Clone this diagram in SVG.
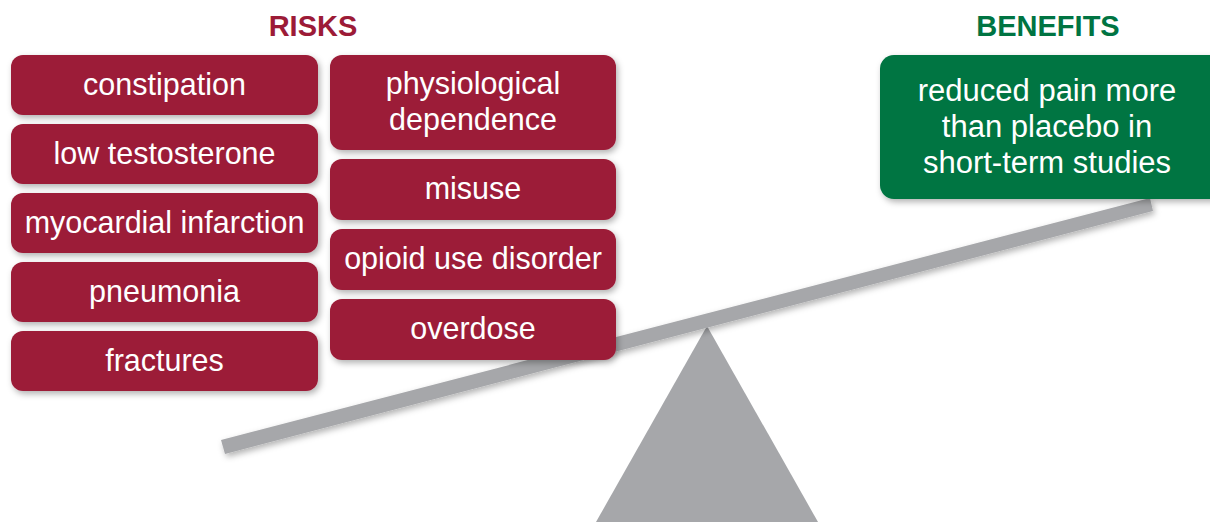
<svg xmlns="http://www.w3.org/2000/svg" width="1210" height="523" viewBox="0 0 1210 523">
<defs>
<filter id="sh" x="-10%" y="-20%" width="130%" height="150%">
<feDropShadow dx="2" dy="3" stdDeviation="3" flood-color="#000" flood-opacity="0.3"/>
</filter>
<style>
.risk{fill:#9c1b37;filter:url(#sh)}
.ben{fill:#007442;filter:url(#sh)}
.t{font-family:"Liberation Sans",Arial,sans-serif;font-size:30.5px;fill:#fff;text-anchor:middle}
.h{font-family:"Liberation Sans",Arial,sans-serif;font-size:29px;font-weight:bold;text-anchor:middle}
.gray{fill:#a6a7aa}
</style>
</defs>
<rect width="1210" height="523" fill="#fff"/>
<g id="seesaw">
<polygon class="gray" points="707,326 596,522 818,522"/>
<polygon class="gray" points="221,440 1150,198 1153,211 225,454" filter="url(#sh)"/>
</g>
<text class="h" x="313" y="36" fill="#9c1b37">RISKS</text>
<text class="h" x="1048" y="36" fill="#007442">BENEFITS</text>
<g id="constipation"><rect class="risk" x="11" y="55" width="307" height="60" rx="12"/><text class="t" x="164.5" y="95">constipation</text></g>
<g id="low-testosterone"><rect class="risk" x="11" y="124" width="307" height="60" rx="12"/><text class="t" x="164.5" y="164">low testosterone</text></g>
<g id="myocardial-infarction"><rect class="risk" x="11" y="193" width="307" height="60" rx="12"/><text class="t" x="164.5" y="233">myocardial infarction</text></g>
<g id="pneumonia"><rect class="risk" x="11" y="262" width="307" height="60" rx="12"/><text class="t" x="164.5" y="302">pneumonia</text></g>
<g id="fractures"><rect class="risk" x="11" y="331" width="307" height="60" rx="12"/><text class="t" x="164.5" y="371">fractures</text></g>
<g id="physiological-dependence"><rect class="risk" x="330" y="55" width="286" height="95" rx="12"/><text class="t" x="473" y="94">physiological</text><text class="t" x="473" y="130">dependence</text></g>
<g id="misuse"><rect class="risk" x="330" y="159" width="286" height="61" rx="12"/><text class="t" x="473" y="199">misuse</text></g>
<g id="opioid-use-disorder"><rect class="risk" x="330" y="229" width="286" height="61" rx="12"/><text class="t" x="473" y="269">opioid use disorder</text></g>
<g id="overdose"><rect class="risk" x="330" y="299" width="286" height="61" rx="12"/><text class="t" x="473" y="339">overdose</text></g>
<g id="benefit"><rect class="ben" x="880" y="55" width="345" height="144" rx="14"/><text class="t" x="1047" y="101" style="font-size:31px">reduced pain more</text><text class="t" x="1047" y="137" style="font-size:31px">than placebo in</text><text class="t" x="1047" y="173" style="font-size:31px">short-term studies</text></g>
<g id="connectors"/>
</svg>
